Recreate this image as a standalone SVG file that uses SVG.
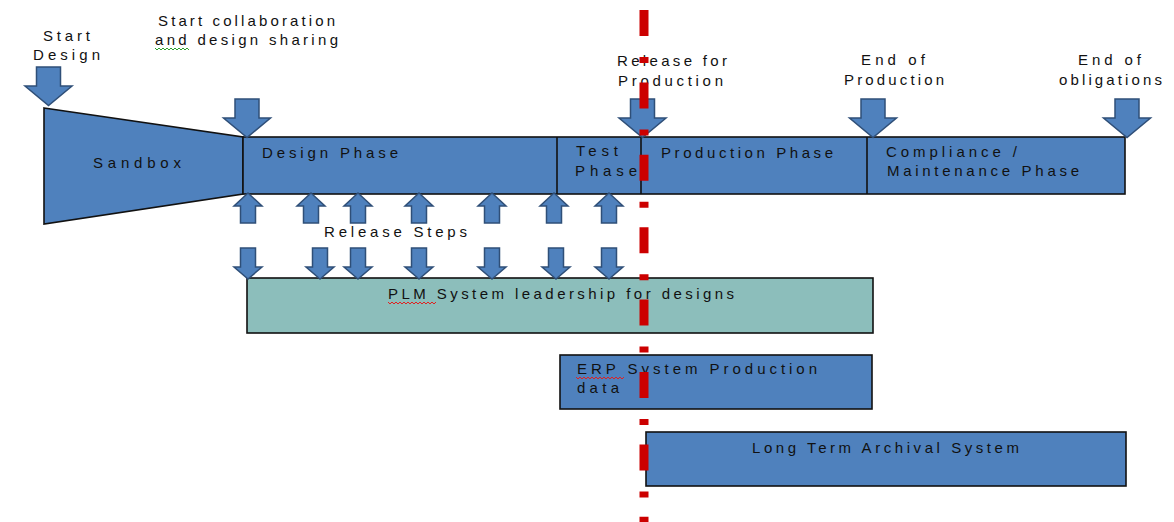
<svg xmlns="http://www.w3.org/2000/svg" xmlns:xlink="http://www.w3.org/1999/xlink" width="1174" height="522" viewBox="0 0 1174 522">
<style>
  .box { fill: #4F81BD; stroke: #111; stroke-width: 1.6; }
  .plm { fill: #8CBEBB; stroke: #111; stroke-width: 1.6; }
  .arr { fill: #4F81BD; stroke: #2F4F78; stroke-width: 1.5; stroke-linejoin: miter; }
  .div { stroke: #111; stroke-width: 1.6; }
  text { font-family: "Liberation Sans", Arial, sans-serif; font-size: 15px; fill: #111; }
  .red { stroke: #CC0000; stroke-width: 9; stroke-dasharray: 26 21 6 19.4; fill: none; }
  .sq-g { stroke: #2BA02B; stroke-width: 1; fill: none; }
  .sq-r { stroke: #E02020; stroke-width: 1; fill: none; }
</style>
<defs>
  <path id="bigDown" d="M-12,0 H12 V19 H23.5 L0,38.5 L-23.5,19 H-12 Z"/>
  <path id="smUp" d="M0,0 L14,13 H7.5 V30 H-7.5 V13 H-14 Z"/>
  <path id="smDown" d="M-7.5,0 H7.5 V19 H14 L0,31 L-14,19 H-7.5 Z"/>
</defs>
<rect width="1174" height="522" fill="#fff"/>

<g id="sandbox">
  <polygon class="box" points="44,108 243,137 243,194 44,224"/>
  <text x="93" y="168" textLength="88" lengthAdjust="spacing">Sandbox</text>
</g>

<g id="lifecycle-bar">
  <rect class="box" x="243" y="137" width="882" height="57"/>
  <line class="div" x1="557" y1="137" x2="557" y2="194"/>
  <line class="div" x1="641" y1="137" x2="641" y2="194"/>
  <line class="div" x1="867" y1="137" x2="867" y2="194"/>
</g>
<g id="design-phase">
  <text x="262" y="158" textLength="136" lengthAdjust="spacing">Design Phase</text>
</g>
<g id="test-phase">
  <text x="576" y="156" textLength="42" lengthAdjust="spacing">Test</text>
  <text x="575" y="176" textLength="62" lengthAdjust="spacing">Phase</text>
</g>
<g id="production-phase">
  <text x="661" y="158" textLength="172" lengthAdjust="spacing">Production Phase</text>
</g>
<g id="compliance-phase">
  <text x="886" y="157" textLength="131" lengthAdjust="spacing">Compliance /</text>
  <text x="887" y="176" textLength="192" lengthAdjust="spacing">Maintenance Phase</text>
</g>

<g id="plm-system">
  <rect class="plm" x="247" y="278" width="626" height="55"/>
  <text x="388" y="299" textLength="346" lengthAdjust="spacing">PLM System leadership for designs</text>
  <path class="sq-r" d="M388,302 l2,2 l2,-2 l2,2 l2,-2 l2,2 l2,-2 l2,2 l2,-2 l2,2 l2,-2 l2,2 l2,-2 l2,2 l2,-2 l2,2 l2,-2 l2,2 l2,-2 l2,2 l2,-2 l2,2 l2,-2 l2,2 l2,-2"/>
</g>

<g id="erp-system">
  <rect class="box" x="560" y="355" width="312" height="54"/>
  <text x="577" y="374" textLength="240" lengthAdjust="spacing">ERP System Production</text>
  <text x="577" y="393" textLength="42" lengthAdjust="spacing">data</text>
  <path class="sq-r" d="M576,377 l2,2 l2,-2 l2,2 l2,-2 l2,2 l2,-2 l2,2 l2,-2 l2,2 l2,-2 l2,2 l2,-2 l2,2 l2,-2 l2,2 l2,-2 l2,2 l2,-2 l2,2 l2,-2 l2,2 l2,-2 l2,2 l2,-2"/>
</g>

<g id="archival-system">
  <rect class="box" x="646" y="432" width="480" height="54"/>
  <text x="752" y="453" textLength="267" lengthAdjust="spacing">Long Term Archival System</text>
</g>

<g id="label-start-design">
  <text x="43" y="41" textLength="47" lengthAdjust="spacing">Start</text>
  <text x="33" y="60" textLength="67" lengthAdjust="spacing">Design</text>
</g>
<g id="label-collaboration">
  <text x="158" y="26" textLength="177" lengthAdjust="spacing">Start collaboration</text>
  <text x="155" y="45" textLength="183" lengthAdjust="spacing">and design sharing</text>
  <path class="sq-g" d="M155,48 l2,2 l2,-2 l2,2 l2,-2 l2,2 l2,-2 l2,2 l2,-2 l2,2 l2,-2 l2,2 l2,-2 l2,2 l2,-2 l2,2 l2,-2 l2,2"/>
</g>
<g id="label-release-production">
  <text x="617" y="66" textLength="110" lengthAdjust="spacing">Release for</text>
  <text x="618" y="86" textLength="105" lengthAdjust="spacing">Production</text>
</g>
<g id="label-end-production">
  <text x="861" y="65" textLength="64" lengthAdjust="spacing">End of</text>
  <text x="844" y="85" textLength="100" lengthAdjust="spacing">Production</text>
</g>
<g id="label-end-obligations">
  <text x="1078" y="65" textLength="63" lengthAdjust="spacing">End of</text>
  <text x="1059" y="85" textLength="103" lengthAdjust="spacing">obligations</text>
</g>
<g id="label-release-steps">
  <text x="324" y="237" textLength="143" lengthAdjust="spacing">Release Steps</text>
</g>

<g id="connectors">
  <use xlink:href="#bigDown" class="arr" x="48.5" y="67"/>
  <use xlink:href="#bigDown" class="arr" x="247" y="99"/>
  <use xlink:href="#bigDown" class="arr" x="642.5" y="99"/>
  <use xlink:href="#bigDown" class="arr" x="873" y="99"/>
  <use xlink:href="#bigDown" class="arr" x="1127" y="99"/>

  <use xlink:href="#smUp" class="arr" x="248" y="193"/>
  <use xlink:href="#smUp" class="arr" x="311" y="193"/>
  <use xlink:href="#smUp" class="arr" x="358" y="193"/>
  <use xlink:href="#smUp" class="arr" x="419" y="193"/>
  <use xlink:href="#smUp" class="arr" x="492" y="193"/>
  <use xlink:href="#smUp" class="arr" x="554" y="193"/>
  <use xlink:href="#smUp" class="arr" x="609" y="193"/>

  <use xlink:href="#smDown" class="arr" x="248" y="248"/>
  <use xlink:href="#smDown" class="arr" x="320" y="248"/>
  <use xlink:href="#smDown" class="arr" x="358" y="248"/>
  <use xlink:href="#smDown" class="arr" x="419" y="248"/>
  <use xlink:href="#smDown" class="arr" x="492" y="248"/>
  <use xlink:href="#smDown" class="arr" x="556" y="248"/>
  <use xlink:href="#smDown" class="arr" x="609" y="248"/>

  <line class="red" x1="644" y1="10" x2="644" y2="522"/>
</g>
</svg>
